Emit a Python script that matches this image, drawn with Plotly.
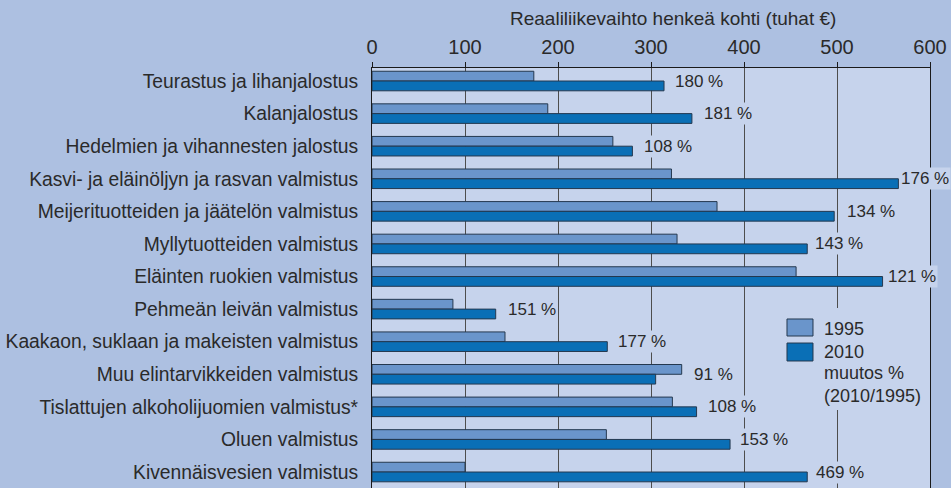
import plotly.graph_objects as go

categories = [
    "Teurastus ja lihanjalostus",
    "Kalanjalostus",
    "Hedelmien ja vihannesten jalostus",
    "Kasvi- ja eläinöljyn ja rasvan valmistus",
    "Meijerituotteiden ja jäätelön valmistus",
    "Myllytuotteiden valmistus",
    "Eläinten ruokien valmistus",
    "Pehmeän leivän valmistus",
    "Kaakaon, suklaan ja makeisten valmistus",
    "Muu elintarvikkeiden valmistus",
    "Tislattujen alkoholijuomien valmistus*",
    "Oluen valmistus",
    "Kivennäisvesien valmistus",
]
values_1995 = [174, 189, 259, 322, 371, 328, 456, 87, 143, 333, 323, 252, 100]
values_2010 = [314, 344, 280, 566, 497, 468, 549, 133, 253, 305, 349, 385, 468]
change_labels = ["180 %", "181 %", "108 %", "176 %", "134 %", "143 %", "121 %",
                 "151 %", "177 %", "91 %", "108 %", "153 %", "469 %"]
x_ticks = [0, 100, 200, 300, 400, 500, 600]
x_title = "Reaaliliikevaihto henkeä kohti (tuhat €)"
legend_names = ["1995", "2010"]
legend_note = "muutos %<br>(2010/1995)"

# styling
FONT = "Liberation Sans, Arial, sans-serif"
TXT = "#2a2a2a"
OUTER_BG = "#adc0e1"
PLOT_BG = "#c6d3ec"
C1995 = "#6a95cb"
C2010 = "#0a6fb6"
EDGE = "#24384f"
GRID = "#4d4d4d"
label_shift_px = [9, 10, 10, 1, 11, 6, 3, 10, 9, 10, 9, 8, 7]

fig = go.Figure()
fig.add_trace(go.Bar(y=categories, x=values_1995, orientation="h", name=legend_names[0],
                     marker=dict(color=C1995, line=dict(color=EDGE, width=1)), showlegend=False))
fig.add_trace(go.Bar(y=categories, x=values_2010, orientation="h", name=legend_names[1],
                     marker=dict(color=C2010, line=dict(color=EDGE, width=1)), showlegend=False))

n = len(categories)
annotations = []
for i, (c, a, b, lab) in enumerate(zip(categories, values_1995, values_2010, change_labels)):
    annotations.append(dict(x=max(a, b), y=c, xref="x", yref="y", text=lab, showarrow=False,
                            xanchor="left", yanchor="middle", xshift=label_shift_px[i],
                            bgcolor=PLOT_BG, borderpad=1,
                            font=dict(family=FONT, size=17, color=TXT)))
# axis title
annotations.append(dict(x=0.539, y=1.119, xref="paper", yref="paper", text=x_title,
                        showarrow=False, xanchor="center", yanchor="middle",
                        font=dict(family=FONT, size=19, color=TXT)))
# custom legend texts
annotations.append(dict(x=0.806, y=0.3786, xref="paper", yref="paper", text=legend_names[0],
                        showarrow=False, xanchor="left", yanchor="middle",
                        font=dict(family=FONT, size=18, color=TXT)))
annotations.append(dict(x=0.806, y=0.3238, xref="paper", yref="paper", text=legend_names[1],
                        showarrow=False, xanchor="left", yanchor="middle",
                        font=dict(family=FONT, size=18, color=TXT)))
annotations.append(dict(x=0.806, y=0.2476, xref="paper", yref="paper", text=legend_note,
                        showarrow=False, xanchor="left", yanchor="middle", align="left",
                        font=dict(family=FONT, size=18, color=TXT)))

shapes = [
    dict(type="rect", xref="paper", yref="paper", x0=0.731, x1=0.99, y0=0.186, y1=0.4286,
         fillcolor=PLOT_BG, line=dict(width=0), layer="above"),
    dict(type="rect", xref="paper", yref="paper", x0=0.7437, x1=0.7903, y0=0.3619, y1=0.4024,
         fillcolor=C1995, line=dict(color=EDGE, width=1), layer="above"),
    dict(type="rect", xref="paper", yref="paper", x0=0.7437, x1=0.7903, y0=0.3024, y1=0.3452,
         fillcolor=C2010, line=dict(color=EDGE, width=1), layer="above"),
]

fig.update_layout(
    width=951, height=488, autosize=False,
    margin=dict(l=372, r=21, t=68, b=0, autoexpand=False),
    paper_bgcolor=OUTER_BG, plot_bgcolor=PLOT_BG,
    barmode="group", bargap=0.4, bargroupgap=0,
    font=dict(family=FONT, color=TXT),
    annotations=annotations, shapes=shapes,
    xaxis=dict(side="top", range=[0, 600], tickvals=x_ticks, showgrid=True,
               gridcolor=GRID, gridwidth=1, zeroline=False, automargin=False,
               showline=True, linecolor="#1a1a1a", linewidth=1,
               ticks="outside", ticklen=5, tickcolor="#1a1a1a",
               tickfont=dict(family=FONT, size=20, color=TXT)),
    yaxis=dict(type="category", range=[n - 0.51, -0.4], showgrid=False, zeroline=False,
               showline=True, linecolor="#1a1a1a", linewidth=1, mirror=True,
               ticks="", ticklabelstandoff=9, automargin=False,
               tickfont=dict(family=FONT, size=19.3, color=TXT)),
    yaxis2=dict(overlaying="y", side="left", range=[n - 0.51, -0.4], automargin=False,
                tickvals=[i + 0.65 for i in range(-1, n)], showticklabels=False,
                ticks="outside", ticklen=5, tickcolor="#1a1a1a", showgrid=False,
                zeroline=False, showline=False),
)
fig.write_html("out.html", config={"displayModeBar": False},
               post_script="document.body.style.margin='0';")
